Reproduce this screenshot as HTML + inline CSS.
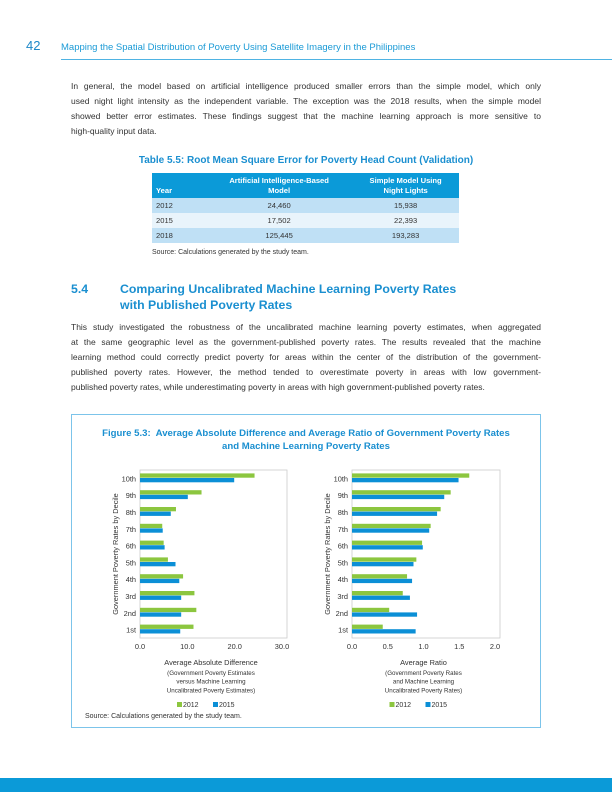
<!DOCTYPE html>
<html><head><meta charset="utf-8"><style>
body{margin:0;width:612px;height:792px;position:relative;background:#fff;font-family:"Liberation Sans",sans-serif;color:#333;overflow:hidden}
.a{position:absolute;white-space:nowrap}
.p{font-size:8.5px;width:470px;text-align:justify;text-align-last:justify;white-space:normal}
.p.l{text-align-last:left}
.blue{color:#1a9ad6}
table{border-collapse:collapse}
</style></head><body>
<div class="a blue" style="left:26px;top:38px;font-size:13px;color:#1e88c8">42</div>
<div class="a blue" style="left:61px;top:42px;font-size:9.5px">Mapping the Spatial Distribution of Poverty Using Satellite Imagery in the Philippines</div>
<div class="a" style="left:61px;top:59px;width:551px;height:1px;background:#4fb3e3"></div>

<div>
<div class="a p" style="left:71px;top:81px">In general, the model based on artificial intelligence produced smaller errors than the simple model, which only</div>
<div class="a p" style="left:71px;top:96px">used night light intensity as the independent variable. The exception was the 2018 results, when the simple model</div>
<div class="a p" style="left:71px;top:111px">showed better error estimates. These findings suggest that the machine learning approach is more sensitive to</div>
<div class="a p l" style="left:71px;top:126px">high-quality input data.</div>
</div>

<div class="a" style="left:120px;top:155px;width:372px;text-align:center;font-size:10px;font-weight:bold;color:#1a8fd0">Table 5.5: Root Mean Square Error for Poverty Head Count (Validation)</div>
<table class="a" style="left:152px;top:173px;width:307px;font-size:7.6px">
<tr style="background:#0b9ad8;color:#fff;height:25px;font-weight:bold"><td style="vertical-align:bottom;padding:0 0 3px 4px;width:50px">Year</td><td style="text-align:center;line-height:10px">Artificial Intelligence-Based<br>Model</td><td style="text-align:center;line-height:10px">Simple Model Using<br>Night Lights</td></tr>
<tr style="background:#bfe0f5;height:15px"><td style="padding-left:4px">2012</td><td style="text-align:center">24,460</td><td style="text-align:center">15,938</td></tr>
<tr style="background:#e9f4fb;height:15px"><td style="padding-left:4px">2015</td><td style="text-align:center">17,502</td><td style="text-align:center">22,393</td></tr>
<tr style="background:#bfe0f5;height:15px"><td style="padding-left:4px">2018</td><td style="text-align:center">125,445</td><td style="text-align:center">193,283</td></tr>
</table>
<div class="a" style="left:152px;top:249px;font-size:7px">Source: Calculations generated by the study team.</div>

<div class="a" style="left:71px;top:281px;font-size:12.3px;font-weight:bold;color:#1a8fd0;line-height:16px">5.4<span style="position:absolute;left:49px;top:0">Comparing Uncalibrated Machine Learning Poverty Rates<br>with Published Poverty Rates</span></div>

<div>
<div class="a p" style="left:71px;top:322px">This study investigated the robustness of the uncalibrated machine learning poverty estimates, when aggregated</div>
<div class="a p" style="left:71px;top:337px">at the same geographic level as the government-published poverty rates. The results revealed that the machine</div>
<div class="a p" style="left:71px;top:352px">learning method could correctly predict poverty for areas within the center of the distribution of the government-</div>
<div class="a p" style="left:71px;top:367px">published poverty rates. However, the method tended to overestimate poverty in areas with low government-</div>
<div class="a p l" style="left:71px;top:382px">published poverty rates, while underestimating poverty in areas with high government-published poverty rates.</div>
</div>

<div class="a" style="left:71px;top:414px;width:470px;height:314px;border:1px solid #7cc4ea;box-sizing:border-box"></div>
<div class="a" style="left:71px;top:428px;width:470px;text-align:center;font-size:9.6px;font-weight:bold;color:#1a8fd0;line-height:12.5px">Figure 5.3:&nbsp; Average Absolute Difference and Average Ratio of Government Poverty Rates<br>and Machine Learning Poverty Rates</div>
<div class="a" style="left:85px;top:713px;font-size:7px">Source: Calculations generated by the study team.</div>
<div class="a" style="left:0;top:778px;width:612px;height:14px;background:#0b9ad8"></div>

<svg class="a" id="chart" style="left:0;top:0" width="612" height="792"></svg>

<script>
const deciles=["1st","2nd","3rd","4th","5th","6th","7th","8th","9th","10th"];
const diff2012=[11.3,11.9,11.5,9.1,5.9,5.0,4.7,7.6,13.0,24.2];
const diff2015=[8.5,8.7,8.7,8.3,7.5,5.2,4.8,6.5,10.1,19.9];
const ratio2012=[0.43,0.52,0.71,0.77,0.90,0.98,1.10,1.24,1.38,1.64];
const ratio2015=[0.89,0.91,0.81,0.84,0.86,0.99,1.08,1.19,1.29,1.49];
const diffTicks=["0.0","10.0","20.0","30.0"];
const ratioTicks=["0.0","0.5","1.0","1.5","2.0"];
const NS="http://www.w3.org/2000/svg";
const svg=document.getElementById('chart');
function mk(t,a,txt){const e=document.createElementNS(NS,t);for(const k in a)e.setAttribute(k,a[k]);if(txt!==undefined)e.textContent=txt;svg.appendChild(e);return e;}
const top0=470,bot0=638;
function chart(name,x0,x1,max,ticks,s1,s2,title,sub){
  const xs=v=>x0+(x1-x0)*v/max;
  const band=(bot0-top0)/deciles.length;
  const ys=i=>bot0-(i+0.5)*band;
  let f=mk('rect',{x:x0,y:top0,width:x1-x0+5,height:bot0-top0,fill:'none',stroke:'#ccc','stroke-width':0.8});
  
  
  deciles.forEach((d,i)=>{
    const y=ys(i);
    let l=mk('text',{x:x0-4,y:y+3,'font-size':7.4,'text-anchor':'end',fill:'#333','font-family':'Liberation Sans'},d);
    
    
    let b1=mk('rect',{x:x0,y:y-5,width:xs(s1[i])-x0,height:4.3,fill:'#8cc63f'});
    
    
    let b2=mk('rect',{x:x0,y:y-0.4,width:xs(s2[i])-x0,height:4.3,fill:'#0b8fd6'});
    
    
  });
  ticks.forEach((t,i)=>{
    const x=xs(max*i/(ticks.length-1));
    let e=mk('text',{x:x,y:bot0+11,'font-size':7.4,'text-anchor':'middle',fill:'#333','font-family':'Liberation Sans'},t);
    
    
  });
  const cx=(x0+x1)/2;
  let tt=mk('text',{x:cx,y:bot0+27,'font-size':7.4,'text-anchor':'middle',fill:'#333','font-family':'Liberation Sans'},title);
  
  
  sub.forEach((s,i)=>{
    let e=mk('text',{x:cx,y:bot0+37+i*8.7,'font-size':6.2,'text-anchor':'middle',fill:'#333','font-family':'Liberation Sans'},s);
    
    
  });
  let yt=mk('text',{x:0,y:0,'font-size':7.4,'text-anchor':'middle',fill:'#333','font-family':'Liberation Sans',transform:`translate(${x0-22},${(top0+bot0)/2}) rotate(-90)`},'Government Poverty Rates by Decile');
  
  
  const ly=bot0+69;
  let g1=mk('rect',{x:cx-34,y:ly-5,width:5,height:5,fill:'#8cc63f'});
  
  
  let g1t=mk('text',{x:cx-28,y:ly,'font-size':7,fill:'#333','font-family':'Liberation Sans'},'2012');
  
  
  let g2=mk('rect',{x:cx+2,y:ly-5,width:5,height:5,fill:'#0b8fd6'});
  
  
  let g2t=mk('text',{x:cx+8,y:ly,'font-size':7,fill:'#333','font-family':'Liberation Sans'},'2015');
  
  
}
chart('difference-chart',140,282,30,diffTicks,diff2012,diff2015,'Average Absolute Difference',['(Government Poverty Estimates','versus Machine Learning','Uncalibrated Poverty Estimates)']);
chart('ratio-chart',352,495,2,ratioTicks,ratio2012,ratio2015,'Average Ratio',['(Government Poverty Rates','and Machine Learning','Uncalibrated Poverty Rates)']);
</script>
</body></html>
